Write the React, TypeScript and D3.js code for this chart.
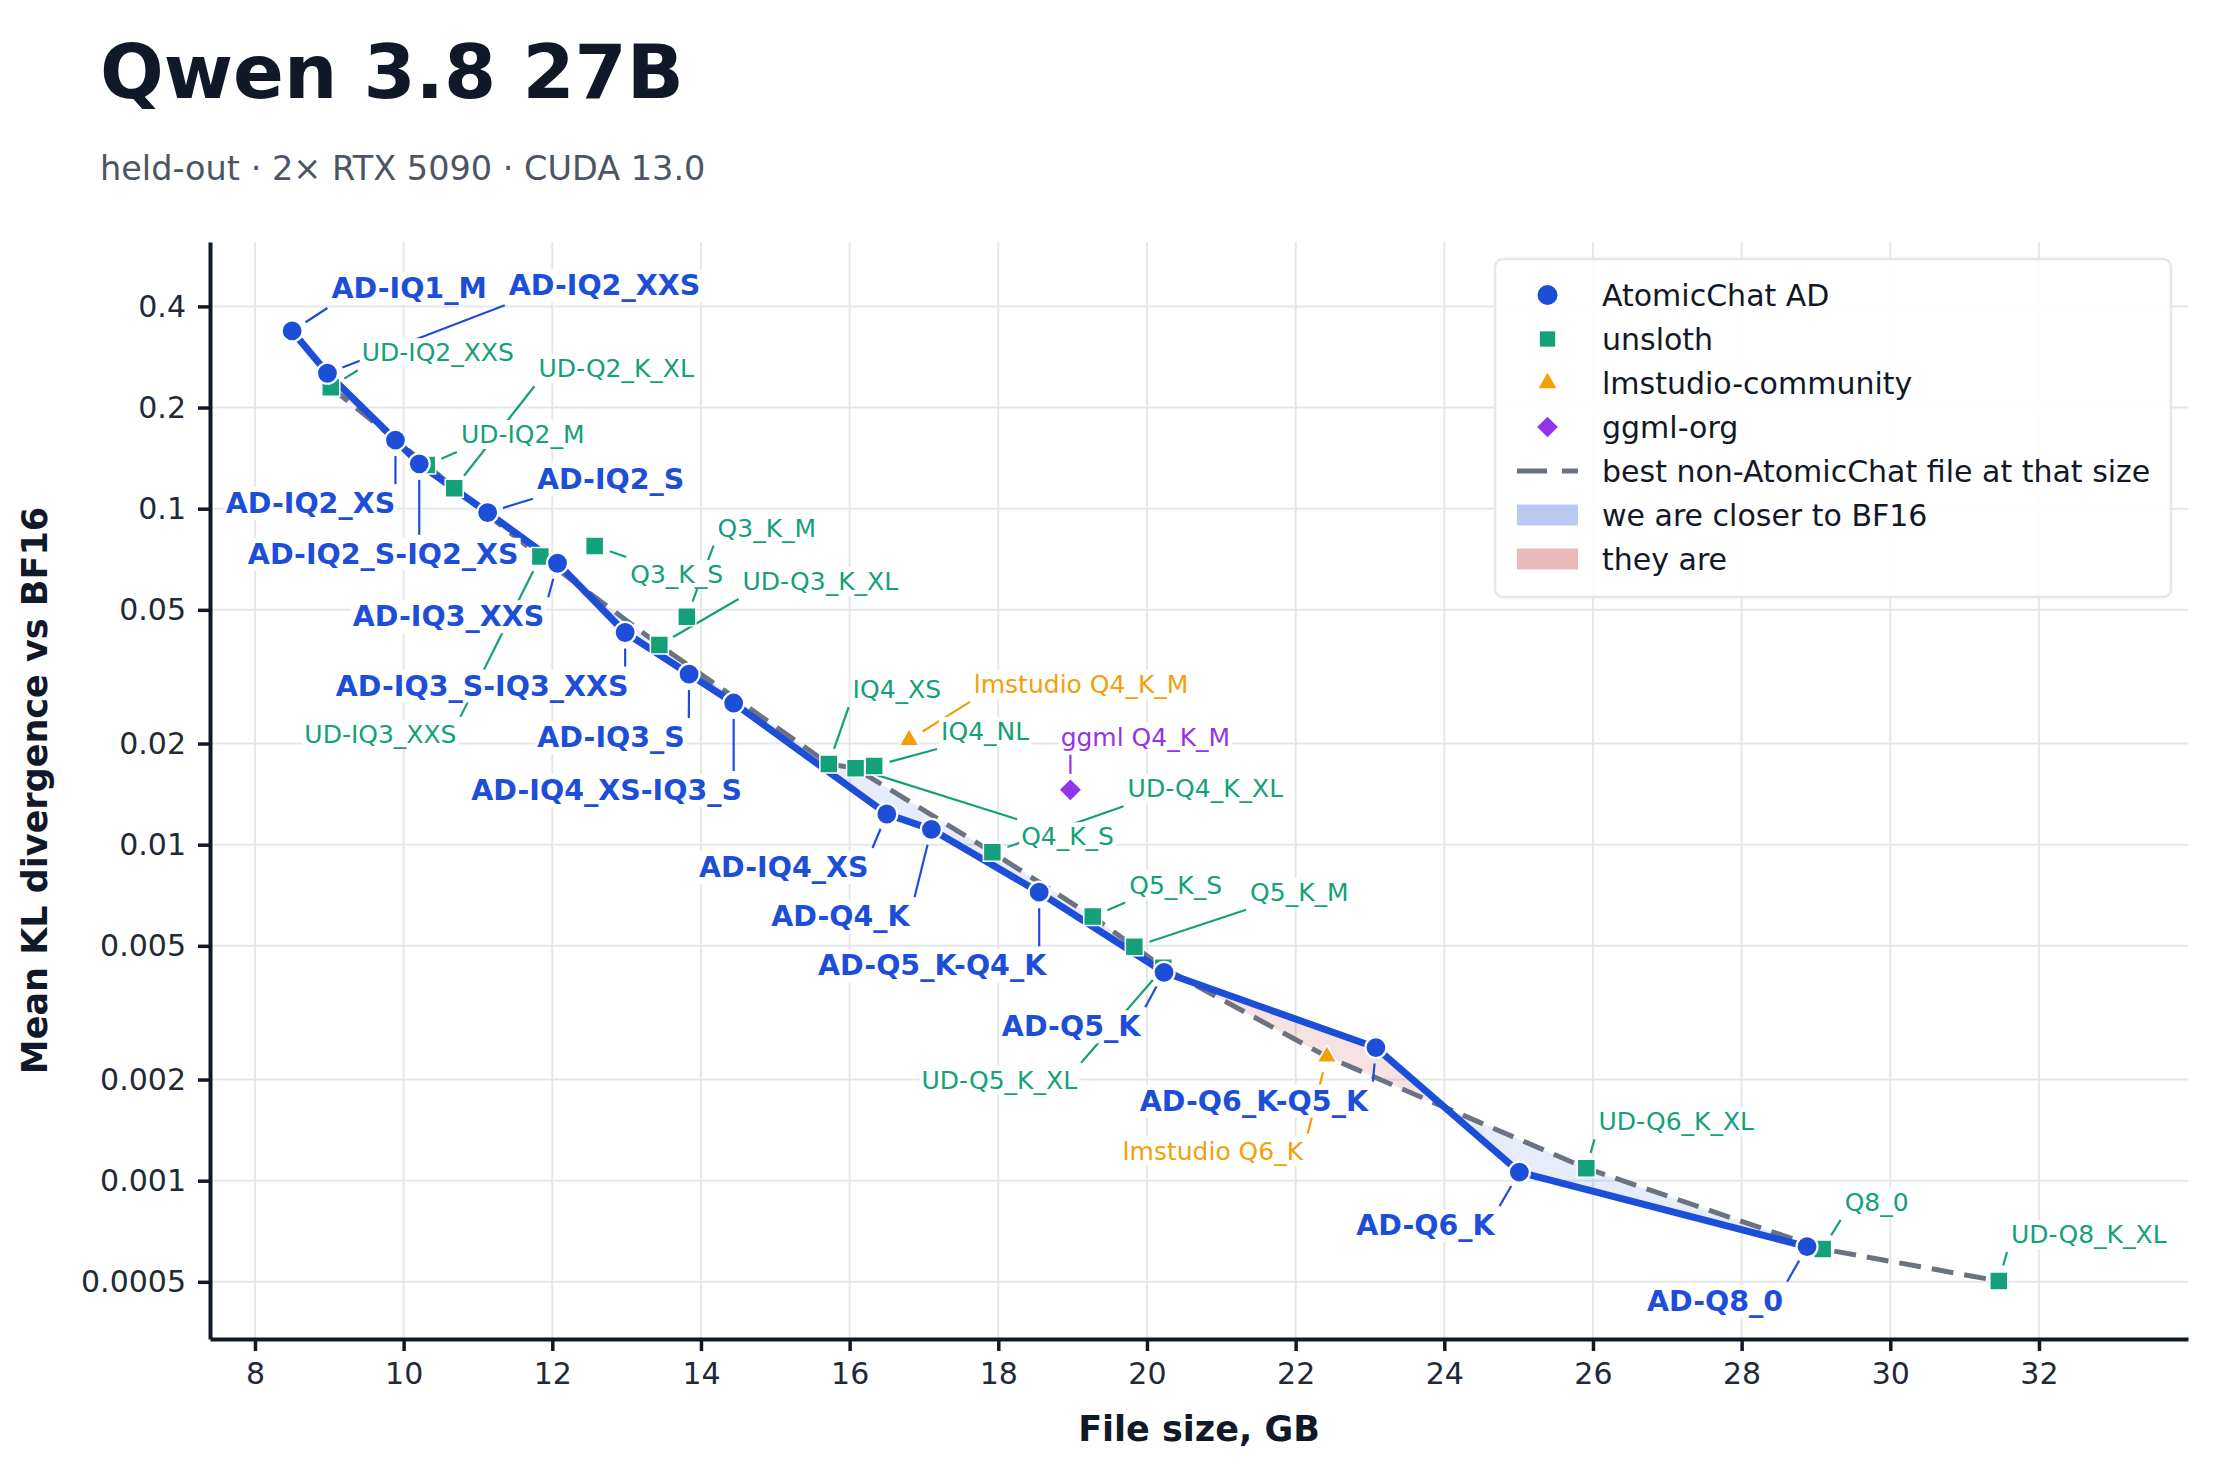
import React, { useEffect, useRef } from 'react';
import * as d3 from 'd3';

// AtomicChat AD quants: file size (GB) and mean KL divergence vs BF16
const AD_NAMES = [
  'AD-IQ1_M', 'AD-IQ2_XXS', 'AD-IQ2_XS', 'AD-IQ2_S-IQ2_XS', 'AD-IQ2_S', 'AD-IQ3_XXS',
  'AD-IQ3_S-IQ3_XXS', 'AD-IQ3_S', 'AD-IQ4_XS-IQ3_S', 'AD-IQ4_XS', 'AD-Q4_K', 'AD-Q5_K-Q4_K',
  'AD-Q5_K', 'AD-Q6_K-Q5_K', 'AD-Q6_K', 'AD-Q8_0',
];
const AD_SIZE = [8.5, 8.975, 9.89, 10.21, 11.13, 12.07, 12.98, 13.84, 14.44, 16.5, 17.1, 18.55, 20.23, 23.08, 25.01, 28.88];
const AD_KL = [0.338, 0.253, 0.16, 0.136, 0.0973, 0.0688, 0.0428, 0.0322, 0.0264, 0.01234, 0.01111, 0.00722, 0.00417, 0.00249, 0.00106, 0.000636];

// other publishers' files
const OTHER_NAMES = [
  'UD-IQ2_XXS', 'UD-IQ2_M', 'UD-Q2_K_XL', 'UD-IQ3_XXS', 'Q3_K_S', 'Q3_K_M', 'UD-Q3_K_XL',
  'IQ4_XS', 'Q4_K_S', 'IQ4_NL', 'lmstudio Q4_K_M', 'ggml Q4_K_M', 'UD-Q4_K_XL', 'Q5_K_S',
  'Q5_K_M', 'UD-Q5_K_XL', 'lmstudio Q6_K', 'UD-Q6_K_XL', 'Q8_0', 'UD-Q8_K_XL',
];
const OTHER_SOURCE = [
  'unsloth', 'unsloth', 'unsloth', 'unsloth', 'unsloth', 'unsloth', 'unsloth',
  'unsloth', 'unsloth', 'unsloth', 'lmstudio-community', 'ggml-org', 'unsloth', 'unsloth',
  'unsloth', 'unsloth', 'lmstudio-community', 'unsloth', 'unsloth', 'unsloth',
];
const OTHER_SIZE = [9.02, 10.31, 10.68, 11.84, 12.57, 13.81, 13.44, 15.72, 16.08, 16.33, 16.8, 18.97, 17.92, 19.27, 19.83, 20.22, 22.42, 25.91, 29.09, 31.46];
const OTHER_KL = [0.2299, 0.1349, 0.115, 0.072, 0.0774, 0.0477, 0.0393, 0.01738, 0.01688, 0.01714, 0.0205, 0.01456, 0.00949, 0.00611, 0.00497, 0.0043, 0.00234, 0.001089, 0.000626, 0.000503];

const X_TICKS = [8, 10, 12, 14, 16, 18, 20, 22, 24, 26, 28, 30, 32];
const Y_TICKS = [0.4, 0.2, 0.1, 0.05, 0.02, 0.01, 0.005, 0.002, 0.001, 0.0005];

// where each annotation sits, in px from its point (centre x, baseline y)
const LABEL_OFFSET: Record<string, [number, number]> = {
  'AD-IQ1_M': [117, -33], 'AD-IQ2_XXS': [277, -78], 'AD-IQ2_XS': [-85, 73],
  'AD-IQ2_S-IQ2_XS': [-36, 100], 'AD-IQ2_S': [123, -24], 'AD-IQ3_XXS': [-109, 63],
  'AD-IQ3_S-IQ3_XXS': [-143, 63], 'AD-IQ3_S': [-78, 73], 'AD-IQ4_XS-IQ3_S': [-127, 97],
  'AD-IQ4_XS': [-103, 63], 'AD-Q4_K': [-91, 97], 'AD-Q5_K-Q4_K': [-107, 83],
  'AD-Q5_K': [-93, 64], 'AD-Q6_K-Q5_K': [-122, 63], 'AD-Q6_K': [-94, 63], 'AD-Q8_0': [-92, 64],
  'UD-IQ2_XXS': [107, -26], 'UD-IQ2_M': [96, -22], 'UD-Q2_K_XL': [162, -111],
  'UD-IQ3_XXS': [-160, 186], 'Q3_K_S': [82, 37], 'Q3_K_M': [80, -80], 'UD-Q3_K_XL': [161, -55],
  'IQ4_XS': [68, -66], 'Q4_K_S': [212, 77], 'IQ4_NL': [111, -26], 'lmstudio Q4_K_M': [172, -47],
  'ggml Q4_K_M': [75, -44], 'UD-Q4_K_XL': [213, -55], 'Q5_K_S': [83, -23], 'Q5_K_M': [165, -46],
  'UD-Q5_K_XL': [-164, 121], 'lmstudio Q6_K': [-114, 103], 'UD-Q6_K_XL': [90, -38],
  'Q8_0': [54, -38], 'UD-Q8_K_XL': [90, -38],
};

const W = 2232;
const H = 1475;
const M = { left: 210, right: 2188, top: 242, bottom: 1339 };
const FONT = '"DejaVu Sans", sans-serif';
const BLUE = '#1d4ed8';
const RED = '#b91c1c';
const GRAY = '#6b7280';
const INK = '#111827';
const GRID = '#e5e7eb';
const SOURCE_COLOR: Record<string, string> = {
  unsloth: '#14a07a',
  'lmstudio-community': '#f59e0b',
  'ggml-org': '#9333ea',
};

const symbolPath = (source: string, scale = 1) => {
  if (source === 'lmstudio-community') return d3.symbol(d3.symbolTriangle, 170 * scale * scale)()!;
  if (source === 'ggml-org') return d3.symbol(d3.symbolSquare, 265 * scale * scale)()!;
  return d3.symbol(d3.symbolSquare, 18 * 18 * scale * scale)()!;
};

export default function App() {
  const svgRef = useRef<SVGSVGElement>(null);

  useEffect(() => {
    document.body.style.margin = '0';
    if (!svgRef.current) return;
    const svg = d3.select(svgRef.current);
    svg.selectAll('*').remove();

    const x = d3.scaleLinear().domain([7.395, 34.005]).range([M.left, M.right]);
    const y = d3.scaleLog().domain([0.0003379, 0.6219]).range([M.bottom, M.top]);

    // title + subtitle
    svg.append('text').attr('x', 100).attr('y', 98).attr('font-size', 75).attr('font-weight', 700)
      .attr('fill', INK).text('Qwen 3.8 27B');
    svg.append('text').attr('x', 100).attr('y', 180).attr('font-size', 33.5)
      .attr('fill', '#4b5563').text('held-out · 2× RTX 5090 · CUDA 13.0');

    // grid
    const grid = svg.append('g').attr('stroke', GRID).attr('stroke-width', 2);
    X_TICKS.forEach((v) => grid.append('line').attr('x1', x(v)).attr('x2', x(v)).attr('y1', M.top).attr('y2', M.bottom));
    Y_TICKS.forEach((v) => grid.append('line').attr('x1', M.left).attr('x2', M.right).attr('y1', y(v)).attr('y2', y(v)));

    // best non-AtomicChat file at each size (running minimum)
    const others = OTHER_NAMES.map((name, i) => ({
      name, source: OTHER_SOURCE[i], size: OTHER_SIZE[i], kl: OTHER_KL[i],
    }));
    const sorted = [...others].sort((a, b) => a.size - b.size);
    const frontier: { size: number; kl: number }[] = [];
    sorted.forEach((d) => {
      if (!frontier.length || d.kl < frontier[frontier.length - 1].kl) frontier.push(d);
    });
    const frX = frontier.map((d) => d.size);
    const frY = frontier.map((d) => d.kl);

    // shaded gap between the two curves (log space)
    const logAt = (xs: number[], ys: number[], v: number) => {
      const i = Math.min(Math.max(d3.bisectRight(xs, v) - 1, 0), xs.length - 2);
      const t = (v - xs[i]) / (xs[i + 1] - xs[i]);
      return Math.log10(ys[i]) + t * (Math.log10(ys[i + 1]) - Math.log10(ys[i]));
    };
    const lo = Math.max(AD_SIZE[0], frX[0]);
    const hi = Math.min(AD_SIZE[AD_SIZE.length - 1], frX[frX.length - 1]);
    const xs = Array.from(new Set([...AD_SIZE, ...frX, lo, hi].filter((v) => v >= lo && v <= hi))).sort((a, b) => a - b);
    const pts: { x: number; ad: number; fr: number }[] = [];
    xs.forEach((v, i) => {
      const ad = logAt(AD_SIZE, AD_KL, v);
      const fr = logAt(frX, frY, v);
      pts.push({ x: v, ad, fr });
      if (i < xs.length - 1) {
        const v1 = xs[i + 1];
        const d0 = ad - fr;
        const d1 = logAt(AD_SIZE, AD_KL, v1) - logAt(frX, frY, v1);
        if (d0 * d1 < 0) {
          const xc = v + ((v1 - v) * d0) / (d0 - d1);
          const fc = logAt(frX, frY, xc);
          pts.push({ x: xc, ad: fc, fr: fc });
        }
      }
    });
    const better = d3.area<{ x: number; ad: number; fr: number }>()
      .x((d) => x(d.x)).y0((d) => y(10 ** d.fr)).y1((d) => y(10 ** Math.min(d.ad, d.fr)));
    const worse = d3.area<{ x: number; ad: number; fr: number }>()
      .x((d) => x(d.x)).y0((d) => y(10 ** d.fr)).y1((d) => y(10 ** Math.max(d.ad, d.fr)));
    svg.append('path').attr('d', better(pts)!).attr('fill', BLUE).attr('fill-opacity', 0.11);
    svg.append('path').attr('d', worse(pts)!).attr('fill', RED).attr('fill-opacity', 0.13);

    // frontier dashed line
    const line = d3.line<{ size: number; kl: number }>().x((d) => x(d.size)).y((d) => y(d.kl));
    svg.append('path').attr('d', line(frontier)!).attr('fill', 'none').attr('stroke', GRAY)
      .attr('stroke-width', 5).attr('stroke-dasharray', '22 11');

    // AtomicChat line
    const ad = AD_NAMES.map((name, i) => ({ name, size: AD_SIZE[i], kl: AD_KL[i] }));
    svg.append('path').attr('d', line(ad)!).attr('fill', 'none').attr('stroke', BLUE)
      .attr('stroke-width', 7).attr('stroke-linejoin', 'round');

    const leaders = svg.append('g').attr('stroke-width', 2.2);

    // markers
    others.forEach((d) => {
      svg.append('path').attr('d', symbolPath(d.source))
        .attr('transform', `translate(${x(d.size)},${y(d.kl)})${d.source === 'ggml-org' ? ' rotate(45)' : ''}`)
        .attr('fill', SOURCE_COLOR[d.source]).attr('stroke', 'white').attr('stroke-width', 1.5);
    });
    ad.forEach((d) => {
      svg.append('circle').attr('cx', x(d.size)).attr('cy', y(d.kl)).attr('r', 10.5)
        .attr('fill', BLUE).attr('stroke', 'white').attr('stroke-width', 2.2);
    });

    // annotations with white boxes and leader lines
    const labels = svg.append('g');
    const items = [
      ...ad.map((d) => ({ ...d, color: BLUE, bold: true })),
      ...others.map((d) => ({ ...d, color: SOURCE_COLOR[d.source], bold: false })),
    ];
    items.forEach((d) => {
      const px = x(d.size);
      const py = y(d.kl);
      const [ox, oy] = LABEL_OFFSET[d.name] || [40, -30];
      const g = labels.append('g');
      const t = g.append('text').attr('x', px + ox).attr('y', py + oy).attr('text-anchor', 'middle')
        .attr('font-size', d.bold ? 28.5 : 25).attr('font-weight', d.bold ? 700 : 400)
        .attr('fill', d.color).text(d.name);
      const b = (t.node() as SVGTextElement).getBBox();
      g.insert('rect', 'text').attr('x', b.x - 2).attr('y', b.y).attr('width', b.width + 4)
        .attr('height', b.height).attr('fill', 'white');
      const ex = Math.max(b.x - 4, Math.min(px, b.x + b.width + 4));
      const ey = Math.max(b.y - 3, Math.min(py, b.y + b.height + 3));
      const dx = ex - px;
      const dy = ey - py;
      const len = Math.hypot(dx, dy);
      if (len > 22) {
        leaders.append('line').attr('x1', px + (dx / len) * 16).attr('y1', py + (dy / len) * 16)
          .attr('x2', ex).attr('y2', ey).attr('stroke', d.color);
      }
    });

    // axes
    const gx = svg.append('g').attr('transform', `translate(0,${M.bottom})`)
      .call(d3.axisBottom(x).tickValues(X_TICKS).tickSize(12).tickPadding(12).tickSizeOuter(0).tickFormat((v) => String(v)));
    const gy = svg.append('g').attr('transform', `translate(${M.left},0)`)
      .call(d3.axisLeft(y).tickValues(Y_TICKS).tickSize(12).tickPadding(12).tickSizeOuter(0).tickFormat((v) => String(v)));
    [gx, gy].forEach((g) => {
      g.attr('font-family', FONT).attr('font-size', 30);
      g.select('.domain').attr('stroke', INK).attr('stroke-width', 4);
      g.selectAll('.tick line').attr('stroke', INK).attr('stroke-width', 3.5);
      g.selectAll('.tick text').attr('fill', '#1f2937');
    });
    svg.append('text').attr('x', (M.left + M.right) / 2).attr('y', 1441).attr('text-anchor', 'middle')
      .attr('font-size', 35).attr('font-weight', 700).attr('fill', INK).text('File size, GB');
    svg.append('text').attr('transform', `translate(47,${(M.top + M.bottom) / 2}) rotate(-90)`)
      .attr('text-anchor', 'middle').attr('font-size', 35).attr('font-weight', 700).attr('fill', INK)
      .text('Mean KL divergence vs BF16');

    // legend
    const lg = svg.append('g');
    lg.append('rect').attr('x', 1495).attr('y', 259).attr('width', 676).attr('height', 338).attr('rx', 8)
      .attr('fill', 'white').attr('fill-opacity', 0.92).attr('stroke', GRID).attr('stroke-width', 2.5);
    const legendItems = [
      { label: 'AtomicChat AD', kind: 'circle' },
      { label: 'unsloth', kind: 'unsloth' },
      { label: 'lmstudio-community', kind: 'lmstudio-community' },
      { label: 'ggml-org', kind: 'ggml-org' },
      { label: 'best non-AtomicChat file at that size', kind: 'dash' },
      { label: 'we are closer to BF16', kind: 'better' },
      { label: 'they are', kind: 'worse' },
    ];
    legendItems.forEach((it, i) => {
      const cy = 295 + i * 44;
      const cx = 1547.5;
      if (it.kind === 'circle') {
        lg.append('circle').attr('cx', cx).attr('cy', cy).attr('r', 10).attr('fill', BLUE);
      } else if (it.kind === 'dash') {
        lg.append('line').attr('x1', 1517).attr('x2', 1578).attr('y1', cy).attr('y2', cy)
          .attr('stroke', GRAY).attr('stroke-width', 5).attr('stroke-dasharray', '30 15');
      } else if (it.kind === 'better' || it.kind === 'worse') {
        lg.append('rect').attr('x', 1517).attr('y', cy - 10.5).attr('width', 61).attr('height', 21)
          .attr('fill', it.kind === 'better' ? BLUE : RED).attr('fill-opacity', 0.3);
      } else {
        lg.append('path').attr('d', symbolPath(it.kind, it.kind === 'unsloth' ? 0.85 : 0.9))
          .attr('transform', `translate(${cx},${cy})${it.kind === 'ggml-org' ? ' rotate(45)' : ''}`)
          .attr('fill', SOURCE_COLOR[it.kind]);
      }
      lg.append('text').attr('x', 1602).attr('y', cy).attr('dy', '0.36em').attr('font-size', 30)
        .attr('fill', INK).text(it.label);
    });
  }, []);

  return (
    <svg ref={svgRef} width={W} height={H} fontFamily={FONT}
      style={{ display: 'block', background: '#ffffff' }} />
  );
}
